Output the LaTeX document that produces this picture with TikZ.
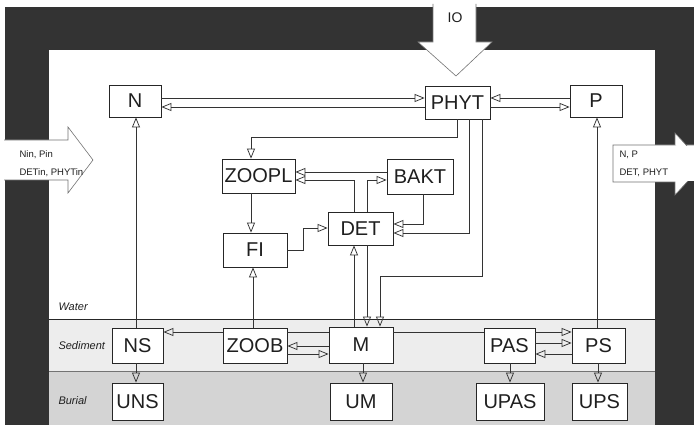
\documentclass[tikz,border=0pt]{standalone}
\usepackage{fontspec}
\setmainfont{Liberation Sans}
\usetikzlibrary{arrows.meta}
\begin{document}
\begin{tikzpicture}[x=1pt,y=-1pt,
  box/.style={draw=black!85, line width=0.8pt, fill=white, inner sep=0pt,
    font=\fontsize{20}{20}\selectfont, text=black!88},
  arr/.style={draw=black!80, line width=0.75pt, -{Triangle[open,length=10pt,width=8pt]}},
  ln/.style={draw=black!80, line width=0.75pt},
  bigarrow/.style={fill=white, draw=black!55, line width=0.6pt, line join=miter},
  zone/.style={font=\fontsize{11}{11}\selectfont\itshape, anchor=west, text=black!88},
  small/.style={font=\fontsize{9.5}{9.5}\selectfont, anchor=west, text=black!88}
]
\useasboundingbox (0,0) rectangle (694,425);
\clip (0,0) rectangle (694,425);
% background zones
\fill[white] (0,0) rectangle (694,425);
\fill[black!80] (5,7) rectangle (694,425);
\fill[white] (49,50) rectangle (655,319);
\fill[black!7] (49,319) rectangle (655,371);
\fill[black!17] (49,371) rectangle (655,425);
\draw[line width=0.6pt, black!85] (49,319) -- (655,319);
\draw[line width=0.6pt, black!55] (49,371) -- (655,371);

% zone labels
\node[zone] (water) at (55,307) {Water};
\node[zone] (sediment) at (55,346) {Sediment};
\node[zone] (burial) at (55,401) {Burial};

% big arrows
\draw[bigarrow] (433,4) -- (433,42) -- (418,42) -- (456,76) -- (492,42) -- (476,42) -- (476,4);
\node[font=\fontsize{14}{14}\selectfont, text=black!88] (io) at (455,18) {IO};
\draw[bigarrow] (4,140) -- (68,140) -- (68,127) -- (93,160) -- (68,193) -- (68,180) -- (4,180);
\node[small] (inl1) at (16,155) {Nin, Pin};
\node[small] (inl2) at (16,173) {DETin, PHYTin};
\draw[bigarrow] (700,145) -- (613,145) -- (613,182) -- (675,182) -- (675,195) -- (700,168);
\draw[bigarrow] (700,160) -- (675,133) -- (675,145);
\fill[white] (675,146) rectangle (700,181);
\node[small] (out1) at (616,155) {N, P};
\node[small] (out2) at (616,173) {DET, PHYT};

% boxes
\node[box, minimum width=52pt, minimum height=32pt] (N) at (135,101) {N};
\node[box, minimum width=65pt, minimum height=33pt] (PHYT) at (457.5,102.5) {PHYT};
\node[box, minimum width=52pt, minimum height=32pt] (P) at (596,101) {P};
\node[box, minimum width=73pt, minimum height=34pt] (ZOOPL) at (258.5,176) {ZOOPL};
\node[box, minimum width=66pt, minimum height=35pt] (BAKT) at (420,176.5) {BAKT};
\node[box, minimum width=65pt, minimum height=33pt] (DET) at (360.5,228.5) {DET};
\node[box, minimum width=64pt, minimum height=34pt] (FI) at (255,250) {FI};
\node[box, minimum width=51pt, minimum height=35pt] (NS) at (137.5,345.5) {NS};
\node[box, minimum width=64pt, minimum height=35pt] (ZOOB) at (255,345.5) {ZOOB};
\node[box, minimum width=64pt, minimum height=36pt] (M) at (361,345) {M};
\node[box, minimum width=51pt, minimum height=35pt] (PAS) at (509.5,345.5) {PAS};
\node[box, minimum width=53pt, minimum height=35pt] (PS) at (598.5,345.5) {PS};
\node[box, minimum width=51pt, minimum height=37pt] (UNS) at (137.5,401.5) {UNS};
\node[box, minimum width=62pt, minimum height=37pt] (UM) at (361,401.5) {UM};
\node[box, minimum width=68pt, minimum height=37pt] (UPAS) at (510,401.5) {UPAS};
\node[box, minimum width=55pt, minimum height=37pt] (UPS) at (599.5,401.5) {UPS};

% water column connectors
\draw[arr] (N.east |- 0,98) -- (PHYT.west |- 0,98);
\draw[arr] (PHYT.west |- 0,107) -- (N.east |- 0,107);
\draw[arr] (P.west |- 0,98) -- (PHYT.east |- 0,98);
\draw[arr] (PHYT.east |- 0,107) -- (P.west |- 0,107);
\draw[arr] (PHYT.south -| 457,0) -- (457,137) -- (251,137) -- (ZOOPL.north -| 251,0);
\draw[arr] (PHYT.south -| 469,0) -- (469,233) -- (DET.east |- 0,233);
\draw[arr] (PHYT.south -| 482,0) -- (482,276) -- (380,276) -- (M.north -| 380,0);
\draw[arr] (BAKT.south -| 423,0) -- (423,224) -- (DET.east |- 0,224);
\draw[arr] (BAKT.west |- 0,172) -- (ZOOPL.east |- 0,172);
\draw[arr] (DET.north -| 354,0) -- (354,180) -- (ZOOPL.east |- 0,180);
\draw[arr] (DET.north -| 367,0) -- (367,180) -- (BAKT.west |- 0,180);
\draw[arr] (ZOOPL.south -| 251,0) -- (FI.north -| 251,0);
\draw[arr] (FI.east |- 0,250) -- (303,250) -- (303,228) -- (DET.west |- 0,228);
\draw[arr] (ZOOB.north -| 253,0) -- (FI.south -| 253,0);
\draw[arr] (M.north -| 354,0) -- (DET.south -| 354,0);
\draw[arr] (DET.south -| 367,0) -- (M.north -| 367,0);
\draw[arr] (NS.north -| 136,0) -- (N.south -| 136,0);
\draw[arr] (PS.north -| 597,0) -- (P.south -| 597,0);

% sediment connectors
\draw[ln] (M.west |- 0,332) -- (ZOOB.east |- 0,332);
\draw[arr] (ZOOB.west |- 0,332) -- (NS.east |- 0,332);
\draw[arr] (M.west |- 0,346) -- (ZOOB.east |- 0,346);
\draw[arr] (ZOOB.east |- 0,354) -- (M.west |- 0,354);
\draw[ln] (M.east |- 0,332) -- (PAS.west |- 0,332);
\draw[arr] (PAS.east |- 0,332) -- (PS.west |- 0,332);
\draw[arr] (PAS.east |- 0,343) -- (PS.west |- 0,343);
\draw[arr] (PS.west |- 0,354) -- (PAS.east |- 0,354);

% burial connectors
\draw[arr] (NS.south -| 136,0) -- (UNS.north -| 136,0);
\draw[arr] (M.south -| 363,0) -- (UM.north -| 363,0);
\draw[arr] (PAS.south -| 510,0) -- (UPAS.north -| 510,0);
\draw[arr] (PS.south -| 598,0) -- (UPS.north -| 598,0);
\end{tikzpicture}
\end{document}
